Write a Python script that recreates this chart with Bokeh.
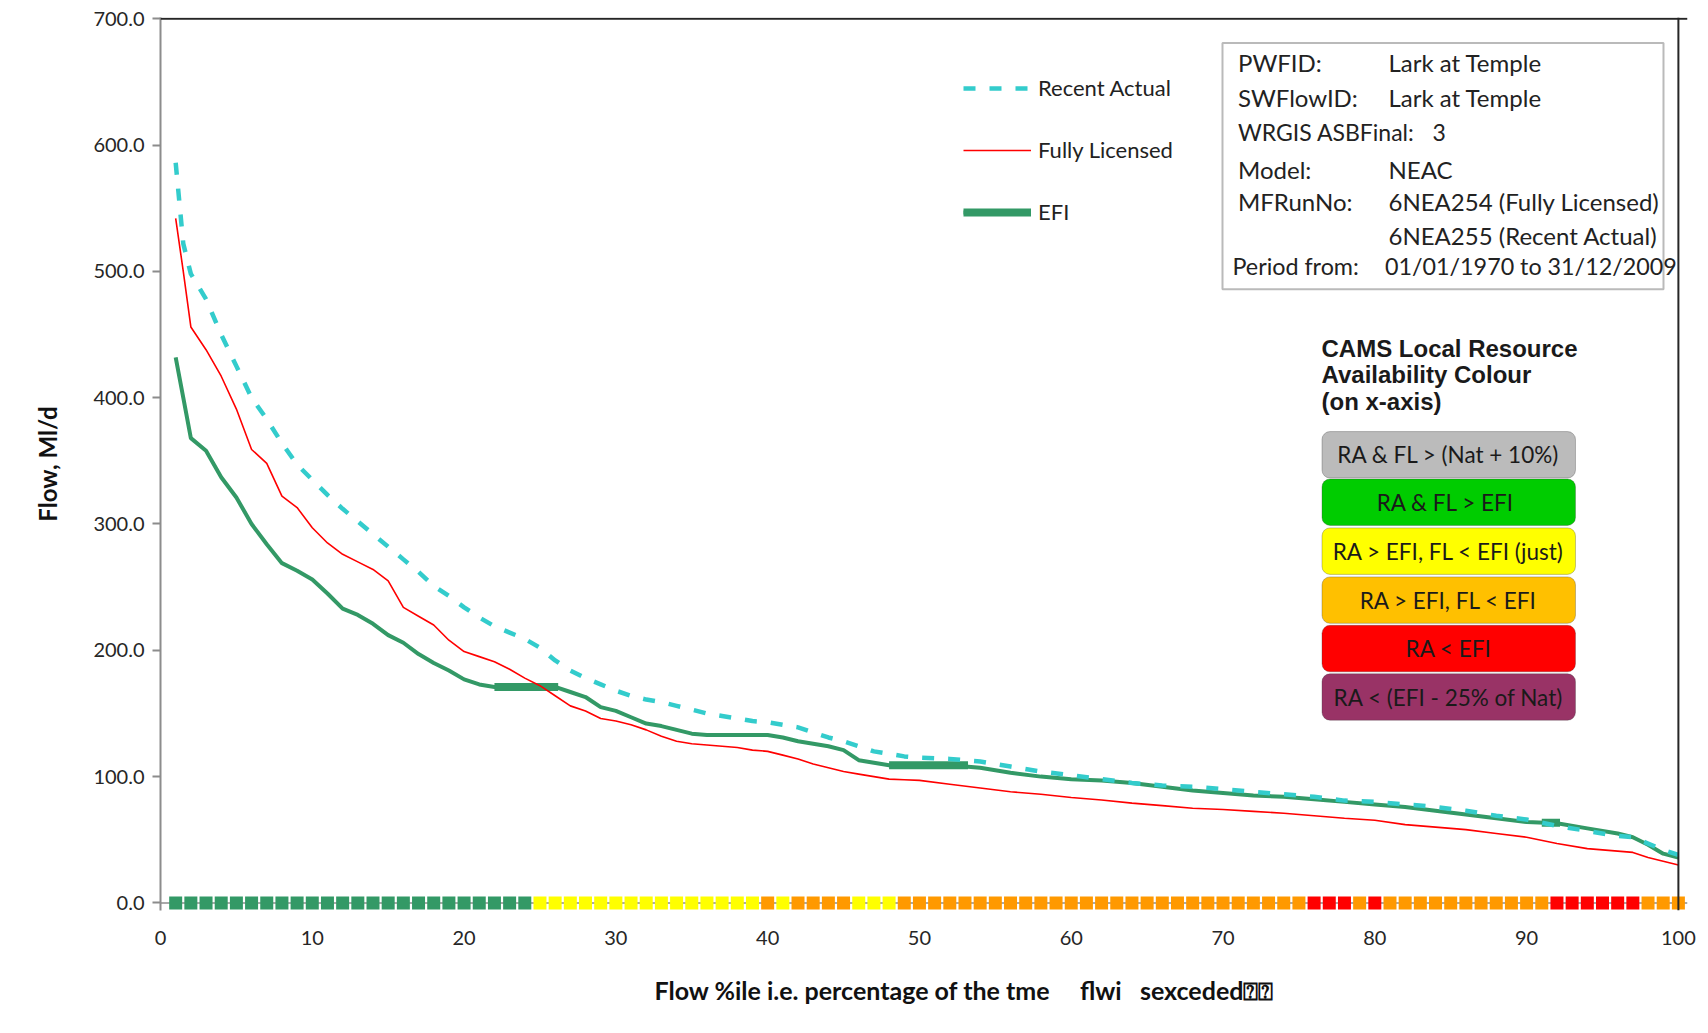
from bokeh.plotting import figure
from bokeh.models import (Range1d, FixedTicker, NumeralTickFormatter, Span, Label,
                          BoxAnnotation, Legend, LegendItem, Title)
from bokeh.embed import file_html
from bokeh.resources import INLINE

# ---------------- data ----------------
pct = [1, 1.5, 2, 3, 4, 5, 6, 7, 8, 9, 10, 11, 12, 13, 14, 15, 16, 17, 18, 19, 20,
       21, 22, 23, 24, 25, 26, 27, 28, 29, 30, 31, 32, 33, 34, 35, 36, 37, 38, 39, 40,
       41, 42, 43, 44, 45, 46, 47, 48, 49, 50, 52, 54, 56, 58, 60, 62, 64, 66, 68, 70,
       72, 74, 76, 78, 80, 82, 84, 86, 88, 90, 92, 94, 96, 97, 98, 99, 100]

recent_actual = [586, 522, 498, 478, 450, 425, 400, 383, 364, 347, 335,
                 323, 312, 302, 292, 282, 272, 262, 251, 243, 234,
                 226, 219, 214, 209, 202, 192, 184, 178, 173, 168,
                 164, 161, 159, 156, 153, 150, 148, 146, 144, 143,
                 141, 139, 135, 131, 128, 124, 120, 118, 116, 115,
                 114, 112, 108, 104, 101, 98, 95, 93, 92, 90,
                 88, 86, 84, 81, 80, 78, 76, 73, 69, 66,
                 61, 57, 53, 52, 47, 42, 38]

fully_licensed = [542, 500, 456, 438, 417, 391, 359, 348, 322, 313, 297,
                  285, 276, 270, 264, 255, 234, 227, 220, 208, 199,
                  195, 191, 185, 178, 172, 164, 156, 152, 146, 144,
                  141, 137, 132, 128, 126, 125, 124, 123, 121, 120,
                  117, 114, 110, 107, 104, 102, 100, 98, 97.5, 97,
                  94, 91, 88, 86, 83.5, 81.5, 79, 77, 75, 74,
                  72.5, 71, 69, 67, 65.5, 62, 60, 58, 55, 52,
                  47, 43, 41, 40, 36, 33, 30]

efi = [432, 400, 368, 358, 337, 321, 300, 284, 269, 263, 256,
       245, 233, 228, 221, 212, 206, 197, 190, 184, 177,
       173, 171, 171, 171, 171, 171, 167, 163, 155, 152,
       147, 142, 140, 137, 134, 133, 133, 133, 133, 133,
       131, 128, 126, 124, 121, 113, 111, 109, 109, 109,
       109, 107, 103, 100, 98, 97, 95, 92, 89, 87,
       85, 84, 82, 80, 78, 76, 73, 70, 67, 64,
       63, 59, 55, 52, 46, 39, 36]

# flat stretches of the EFI curve drawn heavier
efi_flat_start = [22.0, 48.0, 91.0]
efi_flat_end = [26.2, 53.2, 92.2]
efi_flat_flow = [171, 109, 63.5]

# CAMS availability colour at each flow percentile (run lengths, percentiles 1..100)
band_percentile = list(range(1, 101))
band_runs = [("efi", 24), ("just", 15), ("fl_lt", 1), ("just", 1), ("fl_lt", 4),
             ("just", 3), ("fl_lt", 27), ("ra_lt", 3), ("fl_lt", 1), ("ra_lt", 1),
             ("fl_lt", 11), ("ra_lt", 6), ("fl_lt", 3)]
band_colour_of = {"efi": "#339966", "just": "#FFFF00", "fl_lt": "#FF9900", "ra_lt": "#FF0000"}
band_status = []
for status, n in band_runs:
    band_status += [status] * n
band_colours = [band_colour_of[s] for s in band_status]
band_flow = [0] * len(band_percentile)

x_ticks = [0, 10, 20, 30, 40, 50, 60, 70, 80, 90, 100]
y_ticks = [0, 100, 200, 300, 400, 500, 600, 700]

info_labels = ["PWFID:", "SWFlowID:", "WRGIS ASBFinal:", "Model:", "MFRunNo:", "", "Period from:"]
info_values = ["Lark at Temple", "Lark at Temple", "3", "NEAC", "6NEA254 (Fully Licensed)",
               "6NEA255 (Recent Actual)", "01/01/1970 to 31/12/2009"]

cams_title = ["CAMS Local Resource", "Availability Colour", "(on x-axis)"]
cams_labels = ["RA & FL > (Nat + 10%)", "RA & FL  > EFI", "RA > EFI, FL < EFI (just)",
               "RA > EFI, FL < EFI", "RA < EFI", "RA < (EFI - 25% of Nat)"]
cams_colours = ["#BBBBBB", "#00CC00", "#FFFF00", "#FFC000", "#FF0000", "#993366"]

NB = "\u00a0"
x_title = ("Flow %ile i.e. percentage of the tme" + NB * 5 + "flwi" + NB * 3
           + "sexceded\u2370\u2370")

# ---------------- layout helpers (page pixels -> data units) ----------------
PX_X, X0 = 15.179, 160.0
PX_Y, Y0 = 1.2645, 903.4


def dx(px):
    return (px - X0) / PX_X


def dy(py):
    return (Y0 - py) / PX_Y


FONT = "Lato"
TXT = "#222222"

p = figure(width=1700, height=1029, x_range=Range1d(0, 100.6), y_range=Range1d(-6, 701),
           output_backend="svg", toolbar_location=None,
           min_border_left=160, min_border_right=13, min_border_top=17, min_border_bottom=118)
p.outline_line_color = None
p.xgrid.visible = False
p.ygrid.visible = False
p.background_fill_color = "white"
p.border_fill_color = "white"

# axes
p.yaxis.ticker = FixedTicker(ticks=y_ticks)
p.yaxis.formatter = NumeralTickFormatter(format="0.0")
p.yaxis.axis_line_color = "#8c8c8c"
p.yaxis.axis_line_width = 2
p.yaxis.major_tick_line_color = "#8c8c8c"
p.yaxis.major_tick_line_width = 2
p.yaxis.major_tick_out = 8
p.yaxis.major_tick_in = 0
p.yaxis.minor_tick_out = 0
p.yaxis.minor_tick_in = 0
p.yaxis.major_label_text_font = FONT
p.yaxis.major_label_text_font_size = "20px"
p.yaxis.major_label_text_color = "#262626"
p.yaxis.major_label_standoff = 8
p.yaxis.axis_label = "Flow, Ml/d"
p.yaxis.axis_label_text_font = FONT
p.yaxis.axis_label_text_font_style = "bold"
p.yaxis.axis_label_text_font_size = "24px"
p.yaxis.axis_label_text_color = "#111111"
p.yaxis.axis_label_standoff = 28

p.xaxis.ticker = FixedTicker(ticks=x_ticks)
p.xaxis.axis_line_color = None
p.xaxis.major_tick_out = 0
p.xaxis.major_tick_in = 0
p.xaxis.minor_tick_out = 0
p.xaxis.minor_tick_in = 0
p.xaxis.major_label_text_font = FONT
p.xaxis.major_label_text_font_size = "20px"
p.xaxis.major_label_text_color = "#262626"
p.xaxis.major_label_standoff = 20

p.add_layout(Title(text=x_title, align="left", offset=494, standoff=50, text_font=FONT,
                   text_font_size="25px", text_font_style="bold", text_color="#111111"), "below")

# plot-area borders and zero line
p.add_layout(Span(location=0, dimension="width", line_color="#8c8c8c", line_width=1.5, level="underlay"))
p.add_layout(Span(location=700, dimension="width", line_color="#262626", line_width=2))
p.add_layout(Span(location=100, dimension="height", line_color="#262626", line_width=2))

# series
r_efi = p.line(pct, efi, line_color="#339966", line_width=4)
r_flat = p.segment(x0=efi_flat_start, x1=efi_flat_end, y0=efi_flat_flow, y1=efi_flat_flow,
                   line_color="#339966", line_width=8)
r_fl = p.line(pct, fully_licensed, line_color="#FF0000", line_width=1.6)
r_ra = p.line(pct, recent_actual, line_color="#33CCCC", line_width=4.5, line_dash="12 14")

# availability colour strip
p.scatter(band_percentile, band_flow, marker="square", size=13,
          fill_color=band_colours, line_color=None)

# legend
legend = Legend(items=[LegendItem(label="Recent Actual", renderers=[r_ra]),
                       LegendItem(label="Fully Licensed", renderers=[r_fl]),
                       LegendItem(label="EFI", renderers=[r_efi, r_flat])],
                location=(803, 685), orientation="vertical",
                background_fill_alpha=0, border_line_color=None,
                padding=0, margin=0, spacing=35, glyph_width=68, glyph_height=24,
                label_height=24, label_standoff=7,
                label_text_font=FONT, label_text_font_size="22px", label_text_color=TXT)
p.add_layout(legend)

# info box
p.add_layout(BoxAnnotation(left=dx(1222), right=dx(1663), top=dy(42.5), bottom=dy(289),
                           fill_color="white", fill_alpha=1, line_color="#1a1a1a", line_width=2))
row_y = [62, 97, 132, 169, 201.5, 235, 266]
for i, (lab, val) in enumerate(zip(info_labels, info_values)):
    lx = 1232 if i == 6 else 1237.5
    vx = 1384.5 if i == 6 else (1432 if i == 2 else 1388)
    size = "23.3px" if i == 6 else ("23px" if i == 2 else "24px")
    if lab:
        p.add_layout(Label(x=dx(lx), y=dy(row_y[i]), text=lab, text_font=FONT,
                           text_font_size=size, text_color=TXT, text_baseline="middle"))
    if val:
        p.add_layout(Label(x=dx(vx), y=dy(row_y[i]), text=val, text_font=FONT,
                           text_font_size=size, text_color=TXT, text_baseline="middle"))

# CAMS colour key
for i, t in enumerate(cams_title):
    p.add_layout(Label(x=dx(1321), y=dy([348, 374.5, 401][i]), text=t,
                       text_font="Liberation Sans", text_font_style="bold",
                       text_font_size="24px", text_color="#1a1a1a", text_baseline="middle"))
box_top = [431.5, 479, 528, 577, 625.5, 674]
for i, (lab, col) in enumerate(zip(cams_labels, cams_colours)):
    top = box_top[i]
    bot = top + 46.5
    p.add_layout(BoxAnnotation(left=dx(1321.5), right=dx(1575), top=dy(top), bottom=dy(bot),
                               fill_color=col, fill_alpha=1, line_color="#3a3a3a", line_width=1,
                               border_radius=8))
    p.add_layout(Label(x=dx(1448), y=dy((top + bot) / 2), text=lab, text_font=FONT,
                       text_font_size="22.5px", text_color="#1a1a1a", text_align="center",
                       text_baseline="middle"))

open("out.html", "w").write(file_html(p, INLINE))
